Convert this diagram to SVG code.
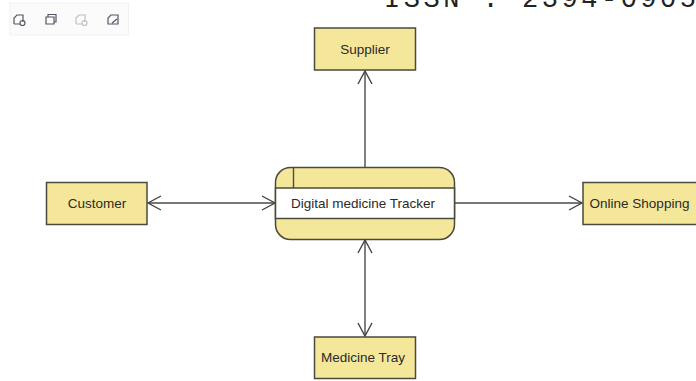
<svg xmlns="http://www.w3.org/2000/svg" width="696" height="381" viewBox="0 0 696 381">
<style>
.box{fill:#f5e79a;stroke:#4a4a3c;stroke-width:1.5}
.lbl{font-family:"Liberation Sans",Arial,sans-serif;font-size:13.500px;fill:#2a2a2a;text-anchor:middle}
.c{stroke:#4a4a4a;stroke-width:1.4;fill:none}
.ic{fill:none;stroke:#556;stroke-width:1.200}
</style>
<defs>
<marker id="a" markerWidth="16" markerHeight="18" refX="14" refY="9" orient="auto-start-reverse" markerUnits="userSpaceOnUse"><path d="M1 2L14 9L1 16" fill="none" stroke="#444" stroke-width="1.400"/></marker>
</defs>
<rect width="696" height="381" fill="#fff"/>
<text x="384" y="7" font-family="Liberation Mono,monospace" font-size="27" fill="#222" textLength="312">ISSN : 2394-0905</text>
<g id="toolbar">
<rect x="10" y="3" width="118.500" height="32" fill="#fbfbfc" stroke="#f0f1f3" stroke-width="1"/>
<g class="ic"><path d="M14 24V18L17 15H23V22M14 24H20"/><circle cx="22.500" cy="23" r="2.500"/></g>
<g class="ic"><path d="M46 24V17H54V24ZM48 17V14.500H56V22H54"/></g>
<g class="ic" opacity=".35"><path d="M76 24V18L79 15H85V22M76 24H82"/><circle cx="84.500" cy="23" r="2.500"/></g>
<g class="ic"><path d="M108 24V18L111 15H118V24ZM112 23L117 19"/></g>
</g>
<g id="connectors">
<path class="c" d="M365 167V71" marker-end="url(#a)"/>
<path class="c" d="M148 203H275" marker-start="url(#a)" marker-end="url(#a)"/>
<path class="c" d="M455 203H582" marker-end="url(#a)"/>
<path class="c" d="M365 240V336" marker-start="url(#a)" marker-end="url(#a)"/>
</g>
<g id="supplier"><rect class="box" x="314.500" y="28" width="101" height="42"/><text class="lbl" x="365" y="54">Supplier</text></g>
<g id="customer"><rect class="box" x="46.500" y="182.500" width="100.500" height="42"/><text class="lbl" x="97" y="208">Customer</text></g>
<g id="online-shopping"><rect class="box" x="583" y="182.500" width="116" height="42"/><text class="lbl" x="639.500" y="208">Online Shopping</text></g>
<g id="medicine-tray"><rect class="box" x="314.500" y="337" width="101" height="41.500"/><text class="lbl" x="363" y="362">Medicine Tray</text></g>
<g id="tracker">
<rect class="box" x="275.500" y="167.500" width="179" height="72" rx="15"/>
<rect x="275.500" y="188" width="179" height="30.500" fill="#fff" stroke="#4a4a3c" stroke-width="1.500"/>
<path class="c" d="M293.500 167.500V188"/>
<text class="lbl" x="363" y="208">Digital medicine Tracker</text>
</g>
</svg>
